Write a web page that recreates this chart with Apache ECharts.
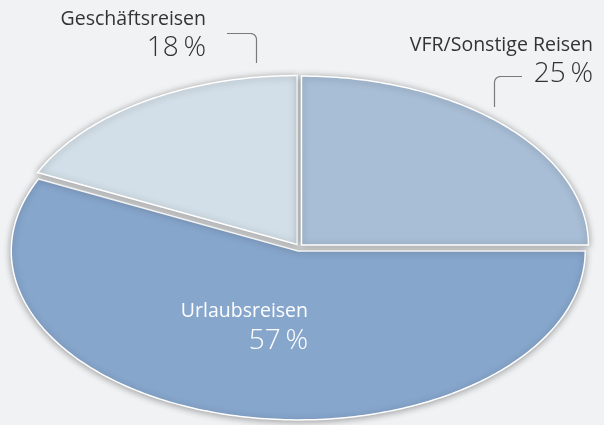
<!DOCTYPE html>
<html><head><meta charset="utf-8">
<script src="https://cdn.jsdelivr.net/npm/echarts@6/dist/echarts.min.js"></script>
<style>html,body{margin:0;padding:0;background:#f1f2f4}#c{width:604px;height:425px}</style>
</head><body><div id="c"></div>
<script>
const categories = ['Urlaubsreisen', 'Geschäftsreisen', 'VFR/Sonstige Reisen'];
const values = [57, 18, 25];
const percentLabels = ['57\u2009%', '18\u2009%', '25\u2009%'];
const colors = ['#87a6cc', '#d3dfe8', '#a8bed6'];

const chart = echarts.init(document.getElementById('c'), null, {renderer: 'canvas'});
const total = values.reduce((a, b) => a + b, 0);
const CX = 299, CY = 247.5, RX = 287, RY = 169, EXPLODE = 3.5;

function renderItem(params, api) {
  const i = params.dataIndex;
  let before = 0;
  for (let k = 0; k < i; k++) before += values[k];
  const v = api.value(0);
  const a0 = before / total * Math.PI * 2;
  const a1 = (before + v) / total * Math.PI * 2;
  const mid = (a0 + a1) / 2;
  const ox = CX + Math.cos(mid) * EXPLODE;
  const oy = CY + Math.sin(mid) * EXPLODE;
  const pts = [[ox, oy]];
  const n = Math.max(8, Math.ceil((a1 - a0) / (Math.PI / 180)));
  for (let s = 0; s <= n; s++) {
    const a = a0 + (a1 - a0) * s / n;
    pts.push([ox + Math.cos(a) * RX, oy + Math.sin(a) * RY]);
  }
  return {
    type: 'polygon',
    shape: {points: pts},
    style: {
      fill: colors[i], stroke: '#ffffff', lineWidth: 1.5,
      shadowBlur: 7, shadowColor: 'rgba(0,0,0,0.35)', shadowOffsetY: 1
    }
  };
}

function cornerLine(x0, y0, xc, y1, r) {
  const dir = xc > x0 ? 1 : -1;
  const pts = [[x0, y0], [xc - dir * r, y0]];
  for (let s = 1; s < 8; s++) {
    const t = s / 8 * Math.PI / 2;
    pts.push([xc - dir * r + dir * Math.sin(t) * r, y0 + r - Math.cos(t) * r]);
  }
  pts.push([xc, y0 + r], [xc, y1]);
  return pts;
}

const font = '"Open Sans", "Noto Sans", sans-serif';
const lineColor = '#7a7a7a';
function txt(text, x, y, size, weight, color) {
  return {type: 'text', z: 100, x: x, y: y, style: {text: text, font: weight + ' ' + size + 'px ' + font, fill: color, align: 'right', verticalAlign: 'middle'}};
}
chart.setOption({
  backgroundColor: '#f1f2f4',
  animation: false,
  series: [{
    type: 'custom',
    coordinateSystem: 'none',
    renderItem: renderItem,
    z: 1,
    data: values.map((v, i) => ({name: categories[i], value: [v]}))
  }],
  graphic: [
    txt(categories[1], 206, 19, 19.5, 'normal', '#333'),
    txt(percentLabels[1], 206, 48, 28, '300', '#333'),
    {type: 'polyline', z: 100, shape: {points: cornerLine(227, 33.5, 256.5, 63, 6)}, style: {stroke: lineColor, lineWidth: 1.2, fill: null}},
    txt(categories[2], 593, 45, 19.5, 'normal', '#333'),
    txt(percentLabels[2], 593, 74, 28, '300', '#333'),
    {type: 'polyline', z: 100, shape: {points: cornerLine(522, 76.5, 494.5, 107, 6)}, style: {stroke: lineColor, lineWidth: 1.2, fill: null}},
    txt(categories[0], 308, 311, 19.5, 'normal', '#ffffff'),
    txt(percentLabels[0], 308, 341, 28, '300', '#ffffff')
  ]
});
</script></body></html>
